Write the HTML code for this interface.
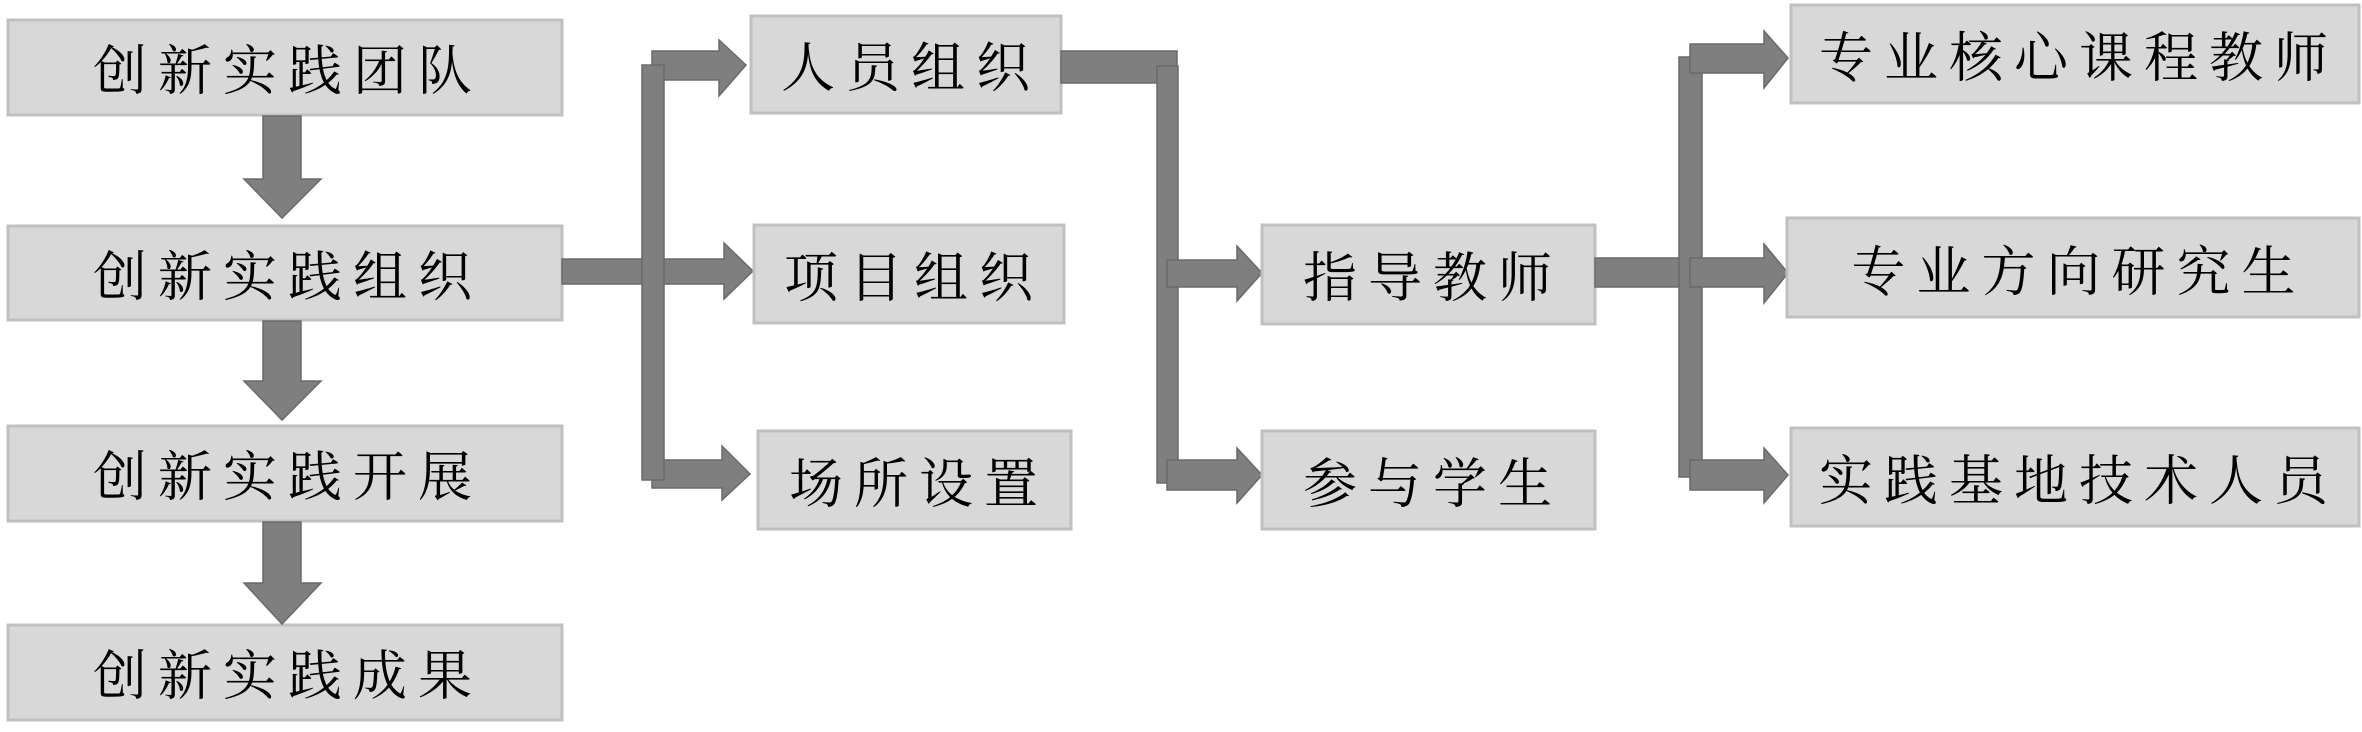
<!DOCTYPE html>
<html><head><meta charset="utf-8"><style>
html,body{margin:0;padding:0;background:#fff;}
svg{display:block;}
text{font-family:"Noto Serif CJK SC","Liberation Serif",serif;font-size:54px;fill:#000;letter-spacing:11px;text-anchor:middle;dominant-baseline:central;}
.b{fill:#d8d8d8;stroke:#c0c0c0;stroke-width:3;}
.a{fill:#7f7f7f;stroke:#6a6a6a;stroke-width:1.5;}
</style></head><body>
<svg width="2362" height="732" viewBox="0 0 2362 732" xmlns="http://www.w3.org/2000/svg">
<rect class="b" x="8" y="20" width="554" height="95"/>
<rect class="b" x="8" y="226" width="554" height="94"/>
<rect class="b" x="8" y="426" width="554" height="95"/>
<rect class="b" x="8" y="625" width="554" height="95"/>
<text x="288" y="67">创新实践团队</text>
<text x="288" y="273">创新实践组织</text>
<text x="288" y="473">创新实践开展</text>
<text x="288" y="672">创新实践成果</text>
<polygon class="a" points="263,116 301,116 301,179 321,179 282,218 244,179 263,179"/>
<polygon class="a" points="263,321 301,321 301,381 321,381 282,420 244,381 263,381"/>
<polygon class="a" points="263,522 301,522 301,583 321,583 282,624 244,583 263,583"/>
<rect class="a" x="562" y="259" width="90" height="25"/>
<polygon class="a" points="652,51 719,51 719,40 746,65 719,96 719,80 652,80"/>
<polygon class="a" points="652,259 724,259 724,243 753,271 724,299 724,284 652,284"/>
<polygon class="a" points="652,460 722,460 722,446 750,474 722,500 722,488 652,488"/>
<rect class="a" x="642" y="65" width="22" height="415"/>
<rect class="b" x="751" y="16" width="310" height="97"/>
<rect class="b" x="754" y="225" width="310" height="98"/>
<rect class="b" x="758" y="431" width="313" height="98"/>
<text x="911" y="64">人员组织</text>
<text x="914" y="274">项目组织</text>
<text x="919" y="480">场所设置</text>
<rect class="a" x="1061" y="51" width="116" height="32"/>
<rect class="a" x="1157" y="66" width="21" height="417"/>
<polygon class="a" points="1167,260 1237,260 1237,246 1262,273 1237,301 1237,287 1167,287"/>
<polygon class="a" points="1167,460 1237,460 1237,448 1262,475 1237,503 1237,490 1167,490"/>
<rect class="b" x="1262" y="225" width="333" height="99"/>
<rect class="b" x="1262" y="431" width="333" height="98"/>
<text x="1433" y="274">指导教师</text>
<text x="1433" y="480">参与学生</text>
<rect class="a" x="1595" y="258" width="95" height="29"/>
<rect class="a" x="1679" y="57" width="23" height="420"/>
<polygon class="a" points="1690,44 1764,44 1764,31 1788,58 1764,88 1764,73 1690,73"/>
<polygon class="a" points="1690,258 1764,258 1764,244 1788,273 1764,303 1764,287 1690,287"/>
<polygon class="a" points="1690,460 1764,460 1764,448 1788,475 1764,503 1764,490 1690,490"/>
<rect class="b" x="1791" y="5" width="568" height="98"/>
<rect class="b" x="1787" y="218" width="572" height="99"/>
<rect class="b" x="1791" y="428" width="568" height="98"/>
<text x="2079" y="54">专业核心课程教师</text>
<text x="2079" y="268">专业方向研究生</text>
<text x="2079" y="477">实践基地技术人员</text>
</svg>
</body></html>
